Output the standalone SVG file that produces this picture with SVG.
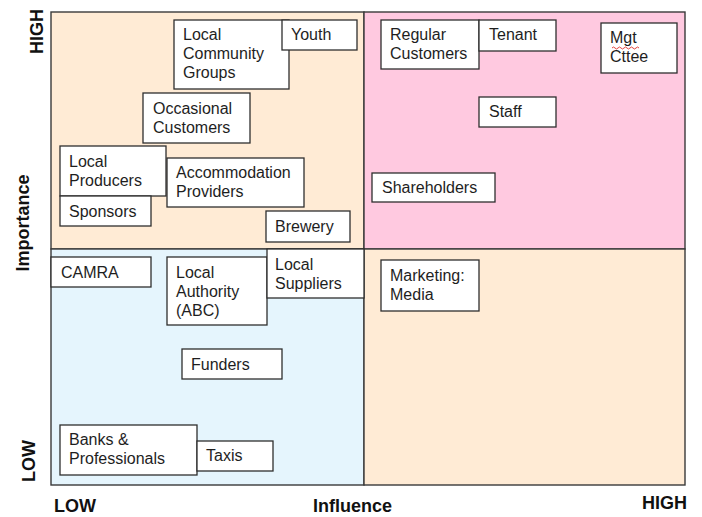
<svg xmlns="http://www.w3.org/2000/svg" width="702" height="517" viewBox="0 0 702 517">
  <style>
    .q { stroke: #3a3a3a; stroke-width: 1.4; }
    .box { fill: #ffffff; stroke: #2e2e2e; stroke-width: 1.3; }
    .lbl { font-family: "Liberation Sans", Arial, sans-serif; font-size: 16px; fill: #1e1e1e; }
    .axis { font-family: "Liberation Sans", Arial, sans-serif; font-size: 18px; font-weight: bold; fill: #111111; }
  </style>
  <rect width="702" height="517" fill="#ffffff"/>

  <!-- quadrants -->
  <g id="quadrants">
    <rect class="q" x="51" y="12" width="313" height="237" fill="#ffebd5"/>
    <rect class="q" x="364" y="12" width="321" height="237" fill="#ffc9e0"/>
    <rect class="q" x="51" y="249" width="313" height="236" fill="#e5f5fd"/>
    <rect class="q" x="364" y="249" width="321" height="236" fill="#ffebd5"/>
  </g>

  <!-- axis labels -->
  <g id="axes">
    <text class="axis" text-anchor="middle" transform="translate(43,31.5) rotate(-90)">HIGH</text>
    <text class="axis" text-anchor="middle" transform="translate(28.5,223) rotate(-90)">Importance</text>
    <text class="axis" text-anchor="middle" transform="translate(35,461) rotate(-90)">LOW</text>
    <text class="axis" x="54" y="512">LOW</text>
    <text class="axis" x="313" y="512">Influence</text>
    <text class="axis" x="642" y="509">HIGH</text>
  </g>

  <!-- high importance, low influence -->
  <g id="local-community-groups">
    <rect class="box" x="174" y="20" width="115" height="69"/>
    <text class="lbl" x="183" y="39.5">Local</text>
    <text class="lbl" x="183" y="58.5">Community</text>
    <text class="lbl" x="183" y="77.5">Groups</text>
  </g>
  <g id="youth">
    <rect class="box" x="282" y="20" width="75" height="30"/>
    <text class="lbl" x="291" y="40">Youth</text>
  </g>
  <g id="occasional-customers">
    <rect class="box" x="143" y="93" width="107" height="50"/>
    <text class="lbl" x="153" y="113.5">Occasional</text>
    <text class="lbl" x="153" y="132.5">Customers</text>
  </g>
  <g id="local-producers">
    <rect class="box" x="60" y="146" width="106" height="50"/>
    <text class="lbl" x="69" y="166.5">Local</text>
    <text class="lbl" x="69" y="185.5">Producers</text>
  </g>
  <g id="sponsors">
    <rect class="box" x="60" y="196" width="91" height="30"/>
    <text class="lbl" x="69" y="216.5">Sponsors</text>
  </g>
  <g id="accommodation-providers">
    <rect class="box" x="167" y="158" width="137" height="49"/>
    <text class="lbl" x="176" y="177.5">Accommodation</text>
    <text class="lbl" x="176" y="196.5">Providers</text>
  </g>
  <g id="brewery">
    <rect class="box" x="266" y="211" width="84" height="31"/>
    <text class="lbl" x="275" y="231.5">Brewery</text>
  </g>

  <!-- high importance, high influence -->
  <g id="regular-customers">
    <rect class="box" x="381" y="20" width="98" height="49"/>
    <text class="lbl" x="390" y="39.5">Regular</text>
    <text class="lbl" x="390" y="58.5">Customers</text>
  </g>
  <g id="tenant">
    <rect class="box" x="479" y="20" width="77" height="31"/>
    <text class="lbl" x="489" y="40">Tenant</text>
  </g>
  <g id="mgt-cttee">
    <rect class="box" x="601" y="23" width="76" height="50"/>
    <text class="lbl" x="610" y="43">Mgt</text>
    <text class="lbl" x="610" y="62">Cttee</text>
    <path d="M612 48 q1.5 -2 3 0 t3 0 t3 0 t3 0 t3 0 t3 0 t3 0 t3 0 t3 0" fill="none" stroke="#e0302a" stroke-width="0.9"/>
  </g>
  <g id="staff">
    <rect class="box" x="479" y="97" width="77" height="30"/>
    <text class="lbl" x="489" y="117">Staff</text>
  </g>
  <g id="shareholders">
    <rect class="box" x="372" y="173" width="123" height="29"/>
    <text class="lbl" x="382" y="193">Shareholders</text>
  </g>

  <!-- low importance, low influence -->
  <g id="camra">
    <rect class="box" x="51" y="257" width="100" height="30"/>
    <text class="lbl" x="61" y="277.5">CAMRA</text>
  </g>
  <g id="local-authority">
    <rect class="box" x="167" y="257" width="100" height="68"/>
    <text class="lbl" x="176" y="277.5">Local</text>
    <text class="lbl" x="176" y="296.5">Authority</text>
    <text class="lbl" x="176" y="315.5">(ABC)</text>
  </g>
  <g id="local-suppliers">
    <rect class="box" x="267" y="249" width="97" height="49"/>
    <text class="lbl" x="275" y="270">Local</text>
    <text class="lbl" x="275" y="289">Suppliers</text>
  </g>
  <g id="funders">
    <rect class="box" x="182" y="349" width="100" height="30"/>
    <text class="lbl" x="191" y="369.5">Funders</text>
  </g>
  <g id="banks-professionals">
    <rect class="box" x="60" y="425" width="137" height="50"/>
    <text class="lbl" x="69" y="445">Banks &amp;</text>
    <text class="lbl" x="69" y="464">Professionals</text>
  </g>
  <g id="taxis">
    <rect class="box" x="197" y="441" width="76" height="30"/>
    <text class="lbl" x="206" y="460.5">Taxis</text>
  </g>

  <!-- low importance, high influence -->
  <g id="marketing-media">
    <rect class="box" x="381" y="260" width="98" height="51"/>
    <text class="lbl" x="390" y="281">Marketing:</text>
    <text class="lbl" x="390" y="300">Media</text>
  </g>
</svg>
